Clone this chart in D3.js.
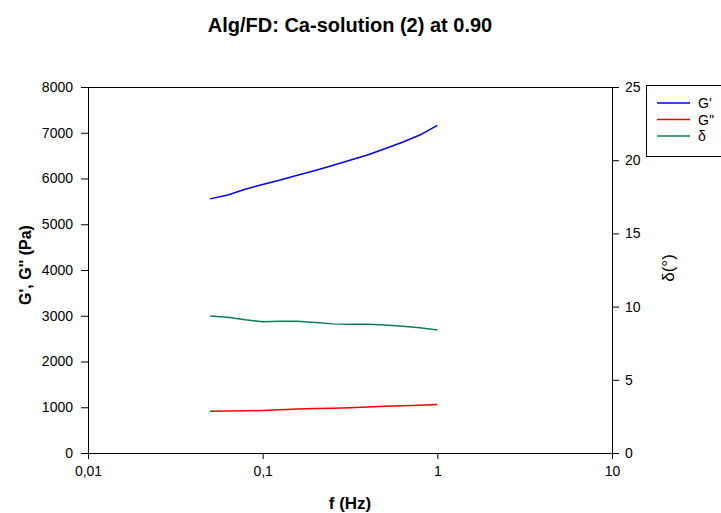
<!DOCTYPE html>
<html>
<head>
<meta charset="utf-8">
<script src="https://cdn.jsdelivr.net/npm/d3@7"></script>
<style>
  body { margin: 0; background: #fff; }
  svg text { font-family: "Liberation Sans", Arial, sans-serif; }
</style>
</head>
<body>
<div id="chart"></div>
<script>

// Frequencies (Hz), 10 points per decade
var freq = [0.05, 0.0631, 0.0794, 0.1, 0.126, 0.158, 0.2, 0.251, 0.316, 0.398, 0.5, 0.631, 0.794, 1.0];

// Storage modulus G' (Pa)
var gPrime = [5555, 5640, 5765, 5870, 5968, 6070, 6175, 6283, 6397, 6513, 6650, 6792, 6950, 7160];

// Loss modulus G'' (Pa)
var gDouble = [915, 918, 922, 930, 945, 960, 970, 980, 990, 1005, 1020, 1035, 1045, 1060];

// Phase angle delta (deg)
var delta = [9.35, 9.28, 9.1, 8.97, 9.0, 9.0, 8.92, 8.82, 8.8, 8.8, 8.75, 8.65, 8.55, 8.4];

var xTicks = [0.01, 0.1, 1, 10];
var xTickLabels = ['0,01', '0,1', '1', '10'];
var yLeftTicks = [0, 1000, 2000, 3000, 4000, 5000, 6000, 7000, 8000];
var yRightTicks = [0, 5, 10, 15, 20, 25];

var legendNames = ["G'", "G''", "\u03b4"];
var colors = ['#0000ff', '#ff0000', '#0b7d5b'];


var width = 721, height = 513;
var plotL = 88, plotR = 612, plotT = 87, plotB = 453;

var svg = d3.select('#chart').append('svg')
	.attr('width', width)
	.attr('height', height);

var x = d3.scaleLog().domain([0.01, 10]).range([plotL, plotR]);
var yL = d3.scaleLinear().domain([0, 8000]).range([plotB, plotT]);
var yR = d3.scaleLinear().domain([0, 25]).range([plotB, plotT]);

// Title
svg.append('text')
	.attr('x', 350).attr('y', 32)
	.attr('text-anchor', 'middle')
	.style('font-size', '20px').style('font-weight', 'bold')
	.text('Alg/FD: Ca-solution (2) at 0.90');

// Frame top line
svg.append('line')
	.attr('x1', plotL).attr('x2', plotR)
	.attr('y1', plotT + 0.5).attr('y2', plotT + 0.5)
	.attr('stroke', '#000');

// Axes
function styleAxis(g) {
	g.selectAll('path').attr('stroke', '#000');
	g.selectAll('line').attr('stroke', '#000');
	g.selectAll('text')
		.style('font-size', '14px')
		.style('font-family', '"Liberation Sans", Arial, sans-serif')
		.attr('fill', '#000');
}

svg.append('g')
	.attr('transform', 'translate(0,' + plotB + ')')
	.call(d3.axisBottom(x).tickValues(xTicks)
		.tickFormat((d, i) => xTickLabels[i])
		.tickSize(6).tickSizeOuter(0).tickPadding(7))
	.call(styleAxis);

svg.append('g')
	.attr('transform', 'translate(' + plotL + ',0)')
	.call(d3.axisLeft(yL).tickValues(yLeftTicks)
		.tickFormat(d3.format('d'))
		.tickSize(7).tickSizeOuter(0).tickPadding(8))
	.call(styleAxis);

svg.append('g')
	.attr('transform', 'translate(' + plotR + ',0)')
	.call(d3.axisRight(yR).tickValues(yRightTicks)
		.tickSize(7).tickSizeOuter(0).tickPadding(6))
	.call(styleAxis);

// Axis titles
svg.append('text')
	.attr('x', 350).attr('y', 509)
	.attr('text-anchor', 'middle')
	.style('font-size', '17px').style('font-weight', 'bold')
	.text('f (Hz)');

svg.append('text')
	.attr('transform', 'translate(31,265) rotate(-90)')
	.attr('text-anchor', 'middle')
	.style('font-size', '16px').style('font-weight', 'bold')
	.text("G', G'' (Pa)");

svg.append('text')
	.attr('transform', 'translate(674,268) rotate(-90)')
	.attr('text-anchor', 'middle')
	.style('font-size', '17px')
	.text('\u03b4(\u00b0)');

// Lines
var lineL = d3.line().x((d, i) => x(freq[i])).y(d => yL(d));
var lineR = d3.line().x((d, i) => x(freq[i])).y(d => yR(d));

svg.append('path').datum(gPrime)
	.attr('d', lineL).attr('fill', 'none')
	.attr('stroke', colors[0]).attr('stroke-width', 1.5);

svg.append('path').datum(gDouble)
	.attr('d', lineL).attr('fill', 'none')
	.attr('stroke', colors[1]).attr('stroke-width', 1.5);

svg.append('path').datum(delta)
	.attr('d', lineR).attr('fill', 'none')
	.attr('stroke', colors[2]).attr('stroke-width', 1.5);

// Legend
var legend = svg.append('g');
legend.append('rect')
	.attr('x', 646.5).attr('y', 85.5)
	.attr('width', 80).attr('height', 71)
	.attr('fill', '#fff').attr('stroke', '#000');

legendNames.forEach(function(name, i) {
	var ly = 103 + i * 16.5;
	legend.append('line')
		.attr('x1', 657).attr('x2', 690)
		.attr('y1', ly).attr('y2', ly)
		.attr('stroke', colors[i]).attr('stroke-width', 1.5);
	legend.append('text')
		.attr('x', 698).attr('y', ly + 5)
		.style('font-size', '14px')
		.text(name);
});

</script>
</body>
</html>
